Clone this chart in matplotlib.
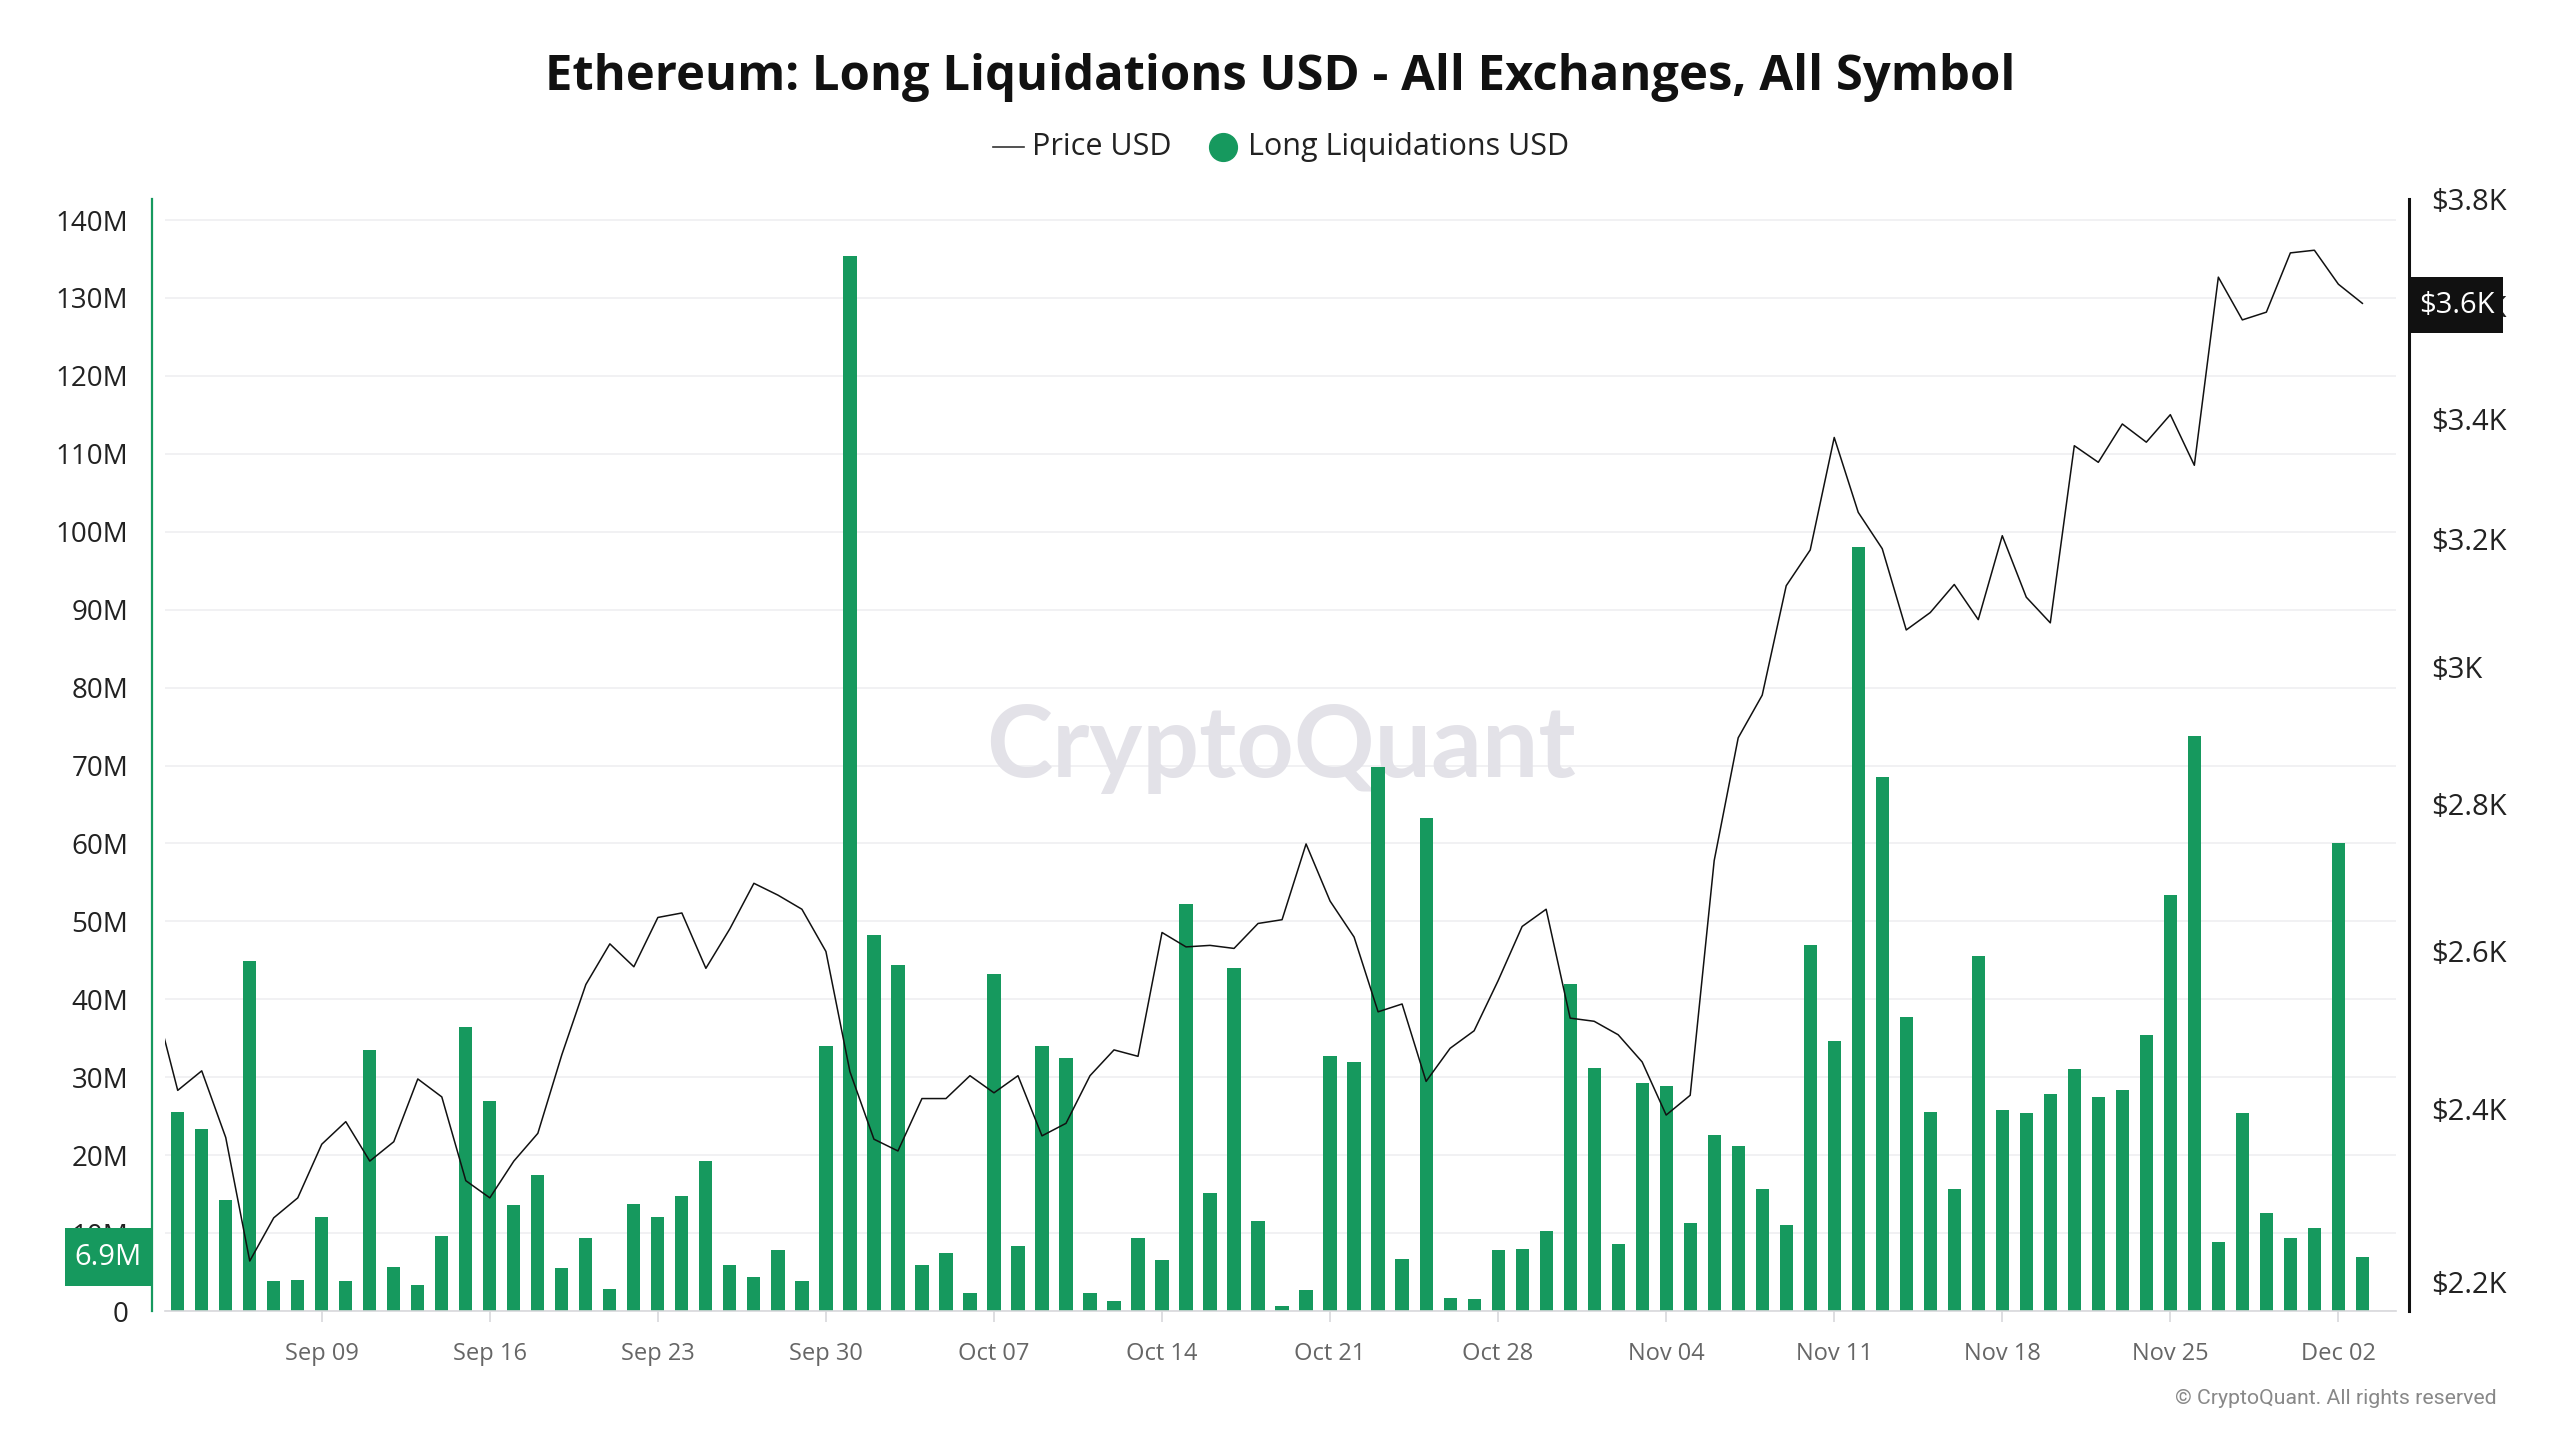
import matplotlib
matplotlib.use('Agg')
import matplotlib.pyplot as plt
import matplotlib.dates as mdates
from matplotlib.lines import Line2D
from matplotlib.patches import Rectangle
from matplotlib.ticker import FixedLocator, NullLocator
import numpy as np
import pandas as pd

plt.rcParams['font.family'] = ['Open Sans', 'DejaVu Sans']

# ---------------- data ----------------
price_dates = pd.date_range('2024-09-02', '2024-12-03', freq='D')
liq_dates = pd.date_range('2024-09-03', '2024-12-03', freq='D')

price_usd = [
    # Sep 02 - Sep 30
    2540, 2423, 2447, 2366, 2223, 2272, 2295, 2358, 2385, 2338, 2361, 2437, 2415, 2315,
    2295, 2338, 2371, 2467, 2556, 2609, 2579, 2644, 2650, 2577, 2629, 2690, 2674, 2655, 2599,
    # Oct
    2446, 2364, 2350, 2413, 2413, 2441, 2420, 2441, 2368, 2383, 2441, 2473, 2465, 2624,
    2605, 2607, 2603, 2636, 2641, 2744, 2666, 2618, 2521, 2531, 2434, 2475, 2497, 2561,
    2632, 2655, 2513,
    # Nov
    2509, 2492, 2458, 2393, 2417, 2721, 2895, 2958, 3126, 3183, 3369, 3244, 3185, 3057,
    3084, 3128, 3073, 3206, 3108, 3068, 3355, 3327, 3392, 3361, 3408, 3322, 3653, 3575,
    3589, 3698,
    # Dec
    3703, 3640, 3605,
]

long_liq_m = [
    # Sep 03 - Sep 30
    25.6, 23.3, 14.3, 44.9, 3.8, 4.0, 12.0, 3.8, 33.5, 5.7, 3.4, 9.6, 36.5, 27.0,
    13.6, 17.4, 5.5, 9.4, 2.8, 13.7, 12.0, 14.7, 19.2, 5.9, 4.4, 7.8, 3.8, 34.0,
    # Oct
    135.4, 48.2, 44.4, 5.9, 7.5, 2.3, 43.2, 8.4, 34.0, 32.5, 2.3, 1.3, 9.4, 6.5,
    52.2, 15.1, 44.0, 11.5, 0.6, 2.7, 32.7, 32.0, 69.8, 6.7, 63.3, 1.7, 1.5, 7.8,
    8.0, 10.3, 42.0,
    # Nov
    31.2, 8.6, 29.3, 28.9, 11.3, 22.6, 21.2, 15.7, 11.1, 47.0, 34.6, 98.1, 68.5, 37.7,
    25.6, 15.7, 45.5, 25.8, 25.4, 27.9, 31.0, 27.5, 28.3, 35.4, 53.4, 73.8, 8.8, 25.4,
    12.6, 9.4,
    # Dec
    10.7, 60.0, 6.9,
]

left_ticks_m = list(range(0, 150, 10))
left_labels = ['0' if v == 0 else f'{v}M' for v in left_ticks_m]
right_ticks = [2200, 2400, 2600, 2800, 3000, 3200, 3400, 3600, 3800]
right_labels = ['$2.2K', '$2.4K', '$2.6K', '$2.8K', '$3K', '$3.2K', '$3.4K', '$3.6K', '$3.8K']
x_tick_dates = pd.date_range('2024-09-09', '2024-12-02', freq='7D')

title = 'Ethereum: Long Liquidations USD - All Exchanges, All Symbol'
last_liq_label = '6.9M'
last_price_label = '$3.6K'

# ---------------- style ----------------
GREEN = '#16995e'
W, H = 2560, 1440

fig = plt.figure(figsize=(W / 100, H / 100), dpi=100)
fig.patch.set_facecolor('white')

ax = fig.add_axes([165 / W, 1 - 1311 / H, 2231 / W, 1112 / H])
ax.bar(liq_dates, np.array(long_liq_m) * 1e6, width=0.55, color=GREEN, zorder=2)
ax.set_ylim(0, 142.7e6)
ax.set_xlim(pd.Timestamp('2024-09-02 11:17'), pd.Timestamp('2024-12-04 09:36'))

ax.yaxis.set_major_locator(FixedLocator(np.array(left_ticks_m) * 1e6))
ax.set_yticklabels(left_labels)
ax.yaxis.grid(True, color='#efeff1', lw=1.2, zorder=0)
ax.set_axisbelow(True)
ax.tick_params(axis='y', length=0, pad=17, labelsize=20, labelcolor='#222222')

ax.set_xticks(x_tick_dates)
ax.xaxis.set_major_formatter(mdates.DateFormatter('%b %d'))
ax.xaxis.set_minor_locator(NullLocator())
ax.tick_params(axis='x', length=8, width=1.2, color='#d8d8dc', pad=14,
               labelsize=17, labelcolor='#666666')

for s in ['top', 'right']:
    ax.spines[s].set_visible(False)
ax.spines['left'].set_position(('outward', 9.4))
ax.spines['left'].set_color(GREEN)
ax.spines['left'].set_linewidth(1.6)
ax.spines['bottom'].set_color('#d8d8dc')
ax.spines['bottom'].set_linewidth(1.2)

# watermark
ax.text(0.5, 0.506, 'CryptoQuant', transform=ax.transAxes, ha='center', va='center',
        fontsize=72, color='#e3e2e8', family=['Lato', 'DejaVu Sans'], fontweight='bold',
        zorder=1)

# price on log right axis
ax2 = ax.twinx()
ax2.plot(price_dates, price_usd, color='#111111', lw=1.1, zorder=3)
ax2.set_yscale('log')
ax2.set_ylim(2167.6, 3800)
ax2.yaxis.set_major_locator(FixedLocator(right_ticks))
ax2.yaxis.set_minor_locator(NullLocator())
ax2.set_yticklabels(right_labels)
ax2.tick_params(axis='y', which='both', length=0, pad=16, labelsize=21, labelcolor='#222222')
for s in ['top', 'left', 'bottom']:
    ax2.spines[s].set_visible(False)
ax2.spines['right'].set_position(('outward', 9.4))
ax2.spines['right'].set_color('#111111')
ax2.spines['right'].set_linewidth(2.2)
ax2.set_xlim(ax.get_xlim())

# title
fig.text(0.5, 1 - 77 / H, title, ha='center', va='center', fontsize=35.3, fontweight='bold',
         color='#111111')

# legend (manual)
ly = 1 - 147 / H
fig.add_artist(Line2D([993 / W, 1024 / W], [ly, ly], color='#333333', lw=1.2))
fig.text(1032 / W, ly, 'Price USD', ha='left', va='center', fontsize=22, color='#222222')
fig.add_artist(Line2D([1223 / W], [ly], marker='o', ms=20, color=GREEN, ls=''))
fig.text(1248 / W, ly, 'Long Liquidations USD', ha='left', va='center', fontsize=22,
         color='#222222')

# last value boxes
y_liq = ax.transData.transform((0, long_liq_m[-1] * 1e6))[1]
fig.add_artist(Rectangle((65 / W, (y_liq - 29) / H), 87 / W, 58 / H, transform=fig.transFigure,
                         fc=GREEN, ec='none', zorder=5))
fig.text(108 / W, y_liq / H, last_liq_label, ha='center', va='center', fontsize=21,
         color='white', zorder=6)

y_pr = ax2.transData.transform((0, price_usd[-1]))[1]
fig.add_artist(Rectangle((2411 / W, (y_pr - 30) / H), 92 / W, 56 / H, transform=fig.transFigure,
                         fc='#111111', ec='none', zorder=5))
fig.text(2457 / W, (y_pr - 2) / H, last_price_label, ha='center', va='center', fontsize=21,
         color='white', zorder=6)

# copyright
fig.text(2497 / W, 1 - 1398 / H, '\u00a9 CryptoQuant. All rights reserved', ha='right',
         va='center', fontsize=15.3, color='#888888', family=['Roboto', 'DejaVu Sans'])

fig.savefig('out.png', dpi=100, facecolor='white')
